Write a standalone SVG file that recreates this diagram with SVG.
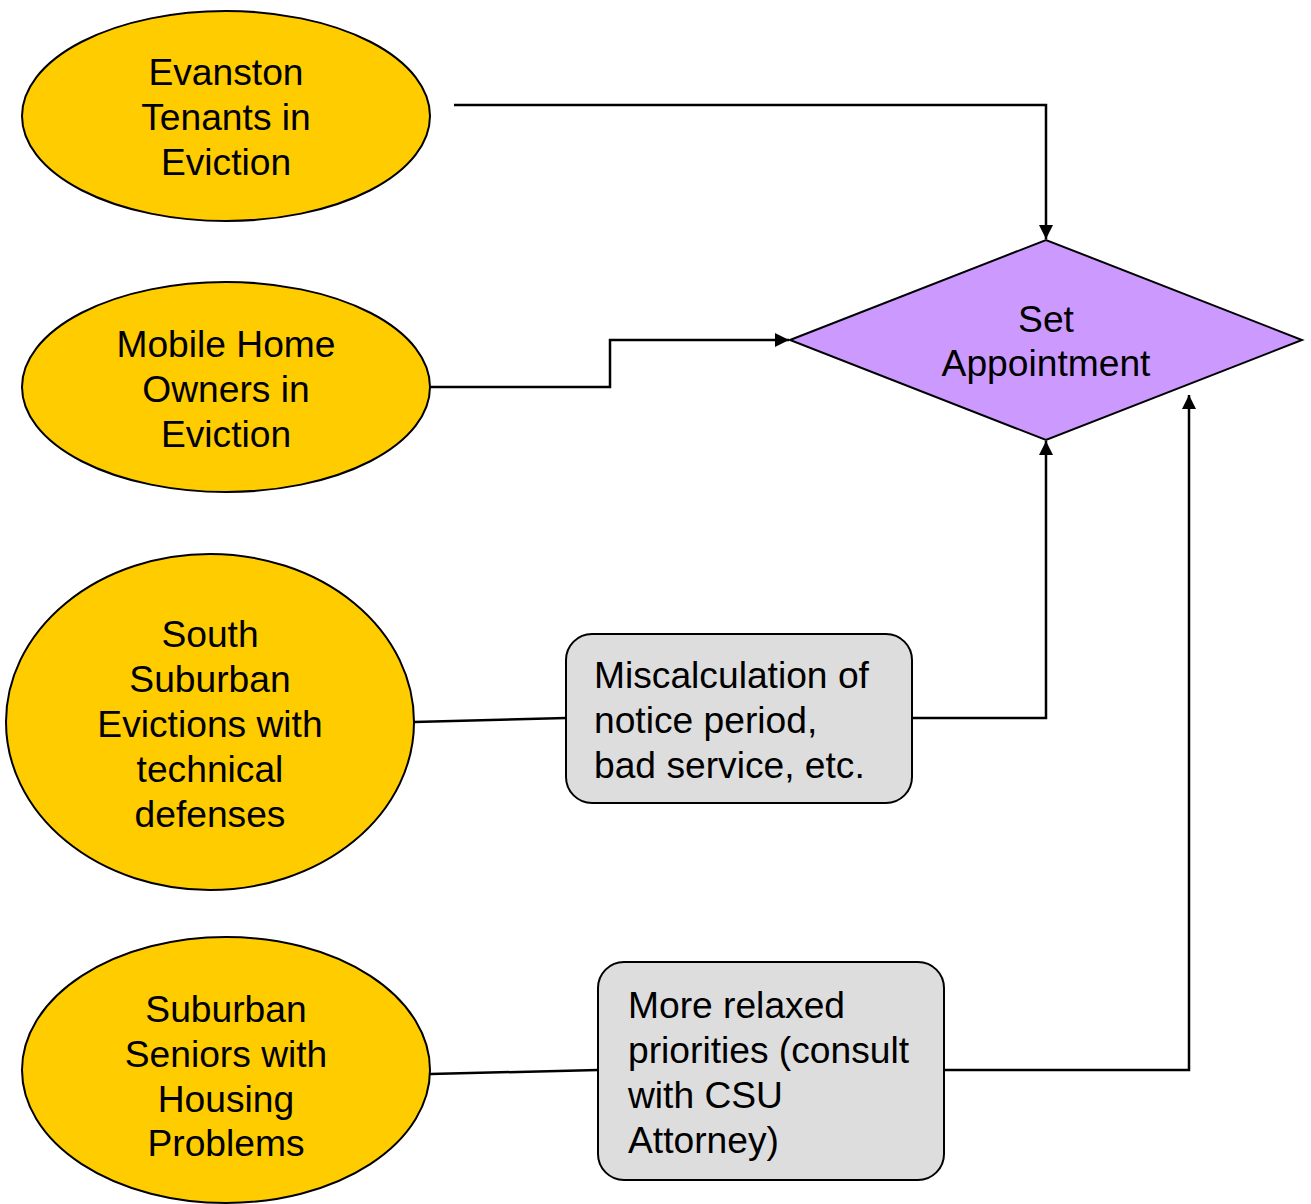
<svg xmlns="http://www.w3.org/2000/svg" width="1311" height="1204" viewBox="0 0 1311 1204">
<style>
.src{fill:#ffcc00;stroke:#000;stroke-width:2}
.box{fill:#dddddd;stroke:#000;stroke-width:2}
.dec{fill:#cc99ff;stroke:#000;stroke-width:2}
text{font-family:"Liberation Sans",Arial,sans-serif;font-size:37.2px;fill:#000}
.c{text-anchor:middle}
.ln{fill:none;stroke:#000;stroke-width:2.5}
</style>
<defs>
<marker id="ah" viewBox="0 0 10 10" refX="10" refY="5" markerWidth="14" markerHeight="14" markerUnits="userSpaceOnUse" orient="auto">
<path d="M0,0 L10,5 L0,10 z" fill="#000"/>
</marker>
</defs>
<g id="connectors">
<polyline class="ln" points="454,105 1046,105 1046,239" marker-end="url(#ah)"/>
<polyline class="ln" points="430,387 610,387 610,340 789,340" marker-end="url(#ah)"/>
<line class="ln" x1="414" y1="722" x2="566" y2="718"/>
<polyline class="ln" points="912,718 1046,718 1046,441" marker-end="url(#ah)"/>
<line class="ln" x1="430" y1="1074" x2="598" y2="1070"/>
<polyline class="ln" points="944,1070 1189,1070 1189,395" marker-end="url(#ah)"/>
</g>
<g id="evanston">
<ellipse class="src" cx="226" cy="116" rx="204" ry="105"/>
<text class="c" x="226" y="85">Evanston</text>
<text class="c" x="226" y="130">Tenants in</text>
<text class="c" x="226" y="175">Eviction</text>
</g>
<g id="mobile">
<ellipse class="src" cx="226" cy="387" rx="204" ry="105"/>
<text class="c" x="226" y="357">Mobile Home</text>
<text class="c" x="226" y="402">Owners in</text>
<text class="c" x="226" y="447">Eviction</text>
</g>
<g id="south">
<ellipse class="src" cx="210" cy="722" rx="204" ry="168"/>
<text class="c" x="210" y="647">South</text>
<text class="c" x="210" y="692">Suburban</text>
<text class="c" x="210" y="737">Evictions with</text>
<text class="c" x="210" y="782">technical</text>
<text class="c" x="210" y="827">defenses</text>
</g>
<g id="seniors">
<ellipse class="src" cx="226" cy="1070" rx="204" ry="133"/>
<text class="c" x="226" y="1022">Suburban</text>
<text class="c" x="226" y="1067">Seniors with</text>
<text class="c" x="226" y="1112">Housing</text>
<text class="c" x="226" y="1156">Problems</text>
</g>
<g id="set-appointment">
<polygon class="dec" points="790,340 1046,240 1302,340 1046,440"/>
<text class="c" x="1046" y="332">Set</text>
<text class="c" x="1046" y="376">Appointment</text>
</g>
<g id="miscalc">
<rect class="box" x="566" y="634" width="346" height="169" rx="26"/>
<text x="594" y="688">Miscalculation of</text>
<text x="594" y="733">notice period,</text>
<text x="594" y="778">bad service, etc.</text>
</g>
<g id="relaxed">
<rect class="box" x="598" y="962" width="346" height="218" rx="26"/>
<text x="628" y="1018">More relaxed</text>
<text x="628" y="1063">priorities (consult</text>
<text x="628" y="1108">with CSU</text>
<text x="628" y="1153">Attorney)</text>
</g>
</svg>
